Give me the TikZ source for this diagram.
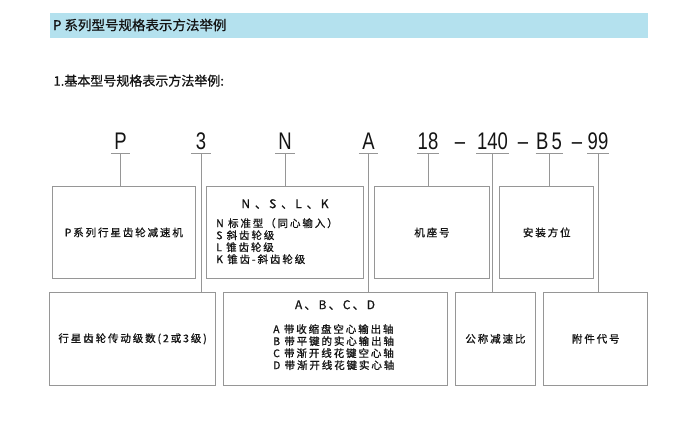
\documentclass[tikz,border=0pt]{standalone}
\usepackage{fontspec}
\usetikzlibrary{positioning}
\newfontfamily\cjk[LetterSpace=18,FakeBold=0.9]{Noto Sans CJK SC}
\newfontfamily\cjkhead[FakeBold=0.9]{Noto Sans CJK SC}
\newfontfamily\codefont[FakeStretch=0.77]{Liberation Sans}
\definecolor{bannerclr}{RGB}{180,225,238}
\definecolor{lineclr}{RGB}{150,150,150}
\definecolor{txtclr}{RGB}{20,20,20}
\tikzset{
  box/.style={draw=lineclr, line width=0.9pt, anchor=north west, inner sep=0pt, minimum height=92pt, text=txtclr, font=\cjk\fontsize{10.5}{12}\selectfont},
  code/.style={anchor=base, inner xsep=0.5pt, inner ysep=4.3pt, minimum width=19pt, text depth=0pt, text=txtclr, font=\codefont\fontsize{24}{24}\selectfont},
  link/.style={draw=lineclr, line width=0.9pt},
  list/.style={anchor=north west, align=left, inner sep=0pt, text=txtclr, font=\cjk\fontsize{10.5}{12}\selectfont},
  head/.style={inner sep=0pt, text=txtclr, font=\cjk\fontsize{12}{12}\selectfont}
}
\begin{document}
\begin{tikzpicture}[x=1pt,y=-1pt]
\useasboundingbox (0,0) rectangle (700,421);
% title bar
\node[fill=bannerclr, anchor=north west, inner sep=0pt, minimum width=598.4pt, minimum height=25pt] (banner) at (49.3,12.3) {};
\node[right, inner sep=0pt, text=txtclr, font=\cjkhead\fontsize{13.5}{13.5}\selectfont] (title) at (52.7,25) {P 系列型号规格表示方法举例};
\node[right, inner sep=0pt, text=txtclr, font=\cjkhead\fontsize{13}{13}\selectfont] (subtitle) at (53.3,80.7) {1.基本型号规格表示方法举例:};
% model code
\node[code] (cP) at (120.5,149) {P};
\node[code] (c3) at (201,149) {3};
\node[code] (cN) at (285,149) {N};
\node[code] (cA) at (368.5,149) {A};
\node[code] (c18) at (428,149) {18};
\node[code, draw=none] (dash1) at (460,149) {–};
\node[code] (c140) at (492.5,149) {140};
\node[code, draw=none] (dash2) at (523,149) {–};
\node[code] (cB5) at (549,149) {B\kern3pt 5};
\node[code, draw=none] (dash3) at (577,149) {–};
\node[code] (c99) at (598,149) {99};
% upper boxes
\node[box, minimum width=143.3pt] (series) at (51.7,186) {P系列行星齿轮减速机};
\node[box, minimum width=157pt] (gear) at (206,186) {};
\node[head] (gearhead) at (285,204) {N 、S 、L 、K};
\node[list] (gearlist) at (216,218) {N 标准型（同心输入）\\S 斜齿轮级\\L 锥齿轮级\\K 锥齿-斜齿轮级};
\node[box, minimum width=115pt] (frame) at (374,186) {机座号};
\node[box, minimum width=94pt] (mount) at (499.3,186) {安装方位};
% lower boxes
\node[box, minimum width=165.7pt, minimum height=93.3pt] (stage) at (49.3,291.7) {行星齿轮传动级数(2或3级)};
\node[box, minimum width=223.4pt, minimum height=93.3pt] (shaft) at (223.3,291.7) {};
\node[head] (shafthead) at (335,305) {A、B、C、D};
\node[list] (shaftlist) at (273,324) {A 带收缩盘空心输出轴\\B 带平键的实心输出轴\\C 带渐开线花键空心轴\\D 带渐开线花键实心轴};
\node[box, minimum width=80pt, minimum height=93.3pt] (ratio) at (455,291.7) {公称减速比};
\node[box, minimum width=104pt, minimum height=93.3pt] (extra) at (543.3,291.7) {附件代号};
% leaders
\draw[link] (cP.south west) -- (cP.south east) (cP.south) -- (cP.south |- series.north);
\draw[link] (c3.south west) -- (c3.south east) (c3.south) -- (c3.south |- stage.north);
\draw[link] (cN.south west) -- (cN.south east) (cN.south) -- (cN.south |- gear.north);
\draw[link] (cA.south west) -- (cA.south east) (cA.south) -- (cA.south |- shaft.north);
\draw[link] (c18.south west) -- (c18.south east) (c18.south) -- (c18.south |- frame.north);
\draw[link] (c140.south west) -- (c140.south east) (c140.south) -- (c140.south |- ratio.north);
\draw[link] (cB5.south west) -- (cB5.south east) (cB5.south) -- (cB5.south |- mount.north);
\draw[link] (c99.south west) -- (c99.south east) (c99.south) -- (c99.south |- extra.north);
\end{tikzpicture}
\end{document}
